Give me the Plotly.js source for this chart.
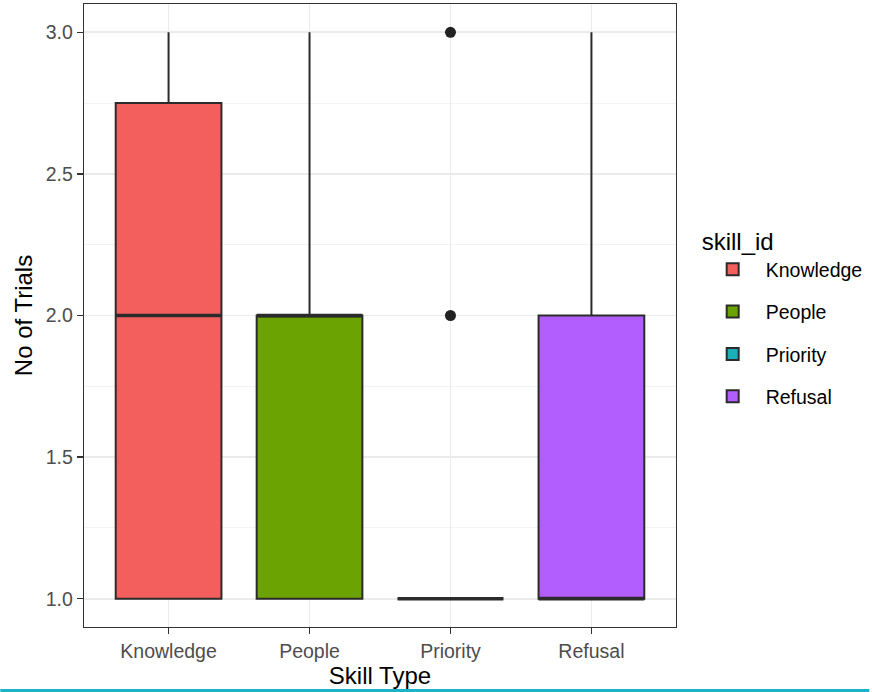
<!DOCTYPE html>
<html>
<head>
<meta charset="utf-8">
<script src="https://cdn.plot.ly/plotly-3.0.1.min.js"></script>
<style>html,body{margin:0;padding:0;background:#fff}#chart{width:872px;height:692px}</style>
</head>
<body>
<div id="chart"></div>
<script>
var categories = ["Knowledge", "People", "Priority", "Refusal"];
var lowerfence = [1, 1, 1, 1];
var q1 = [1, 1, 1, 1];
var median = [2, 2, 1, 1];
var q3 = [2.75, 2, 1, 2];
var upperfence = [3, 3, 1, 3];
var outlierCategory = ["Priority", "Priority"];
var outlierValues = [2, 3];
var colors = ["#F25F5C", "#6BA303", "#1AB0B5", "#B25EFF"];

var traces = [];
categories.forEach(function (c, i) {
  traces.push({
    type: "box",
    name: c,
    legendgroup: c,
    x: [c],
    q1: [q1[i]],
    median: [median[i]],
    q3: [q3[i]],
    lowerfence: [lowerfence[i]],
    upperfence: [upperfence[i]],
    fillcolor: colors[i],
    line: {color: "#2b2b2b", width: 2},
    whiskerwidth: 0,
    width: 0.75,
    boxpoints: false,
    hoverinfo: "skip"
  });
});
traces.push({
  type: "scatter",
  mode: "markers",
  x: outlierCategory,
  y: outlierValues,
  marker: {color: "#222222", size: 11},
  showlegend: false,
  hoverinfo: "skip"
});

var shapes = categories.map(function (c, i) {
  return {
    type: "line", xref: "x", yref: "y",
    x0: i - 0.375, x1: i + 0.375, y0: median[i], y1: median[i],
    line: {color: "#2b2b2b", width: 3.6}
  };
});
shapes.push({
  type: "rect", xref: "paper", yref: "paper",
  x0: -84 / 594, x1: 788 / 594, y0: -65 / 623, y1: -62 / 623,
  fillcolor: "#1AB3C8", line: {width: 0}, layer: "above"
});

var layout = {
  width: 872, height: 692,
  margin: {l: 84, r: 194, t: 4, b: 65},
  paper_bgcolor: "#ffffff",
  plot_bgcolor: "#ffffff",
  font: {family: "Liberation Sans, Arial, sans-serif", color: "#000"},
  showlegend: true,
  boxmode: "overlay",
  xaxis: {
    type: "category",
    categoryorder: "array",
    categoryarray: categories,
    range: [-0.6, 3.6],
    showgrid: true, gridcolor: "#EBEBEB", gridwidth: 1.7,
    showline: true, mirror: true, linecolor: "#333333", linewidth: 1.3,
    ticks: "outside", ticklen: 6, tickcolor: "#333333", tickwidth: 1.4,
    tickfont: {size: 19.5, color: "#4D4D4D"},
    zeroline: false,
    title: {text: "Skill Type", font: {size: 24, color: "#000"}, standoff: 4}
  },
  yaxis: {
    range: [0.9, 3.1],
    tick0: 1, dtick: 0.5, tickformat: ".1f",
    showgrid: true, gridcolor: "#EBEBEB", gridwidth: 1.7,
    minor: {dtick: 0.25, tick0: 1, showgrid: true, gridcolor: "#F2F2F2", gridwidth: 0.9, ticks: ""},
    showline: true, mirror: true, linecolor: "#333333", linewidth: 1.3,
    ticks: "outside", ticklen: 6, tickcolor: "#333333", tickwidth: 1.4,
    tickfont: {size: 19.5, color: "#4D4D4D"},
    zeroline: false,
    title: {text: "No of Trials", font: {size: 24, color: "#000"}, standoff: 6}
  },
  legend: {
    x: 1.04, xanchor: "left",
    y: 0.497, yanchor: "middle",
    title: {text: "skill_id", font: {size: 24, color: "#000"}},
    font: {size: 19.5, color: "#000"},
    tracegroupgap: 14,
    itemwidth: 56,
    bgcolor: "rgba(0,0,0,0)"
  },
  shapes: shapes
};

Plotly.newPlot("chart", traces, layout, {displayModeBar: false, staticPlot: true});
</script>
</body>
</html>
